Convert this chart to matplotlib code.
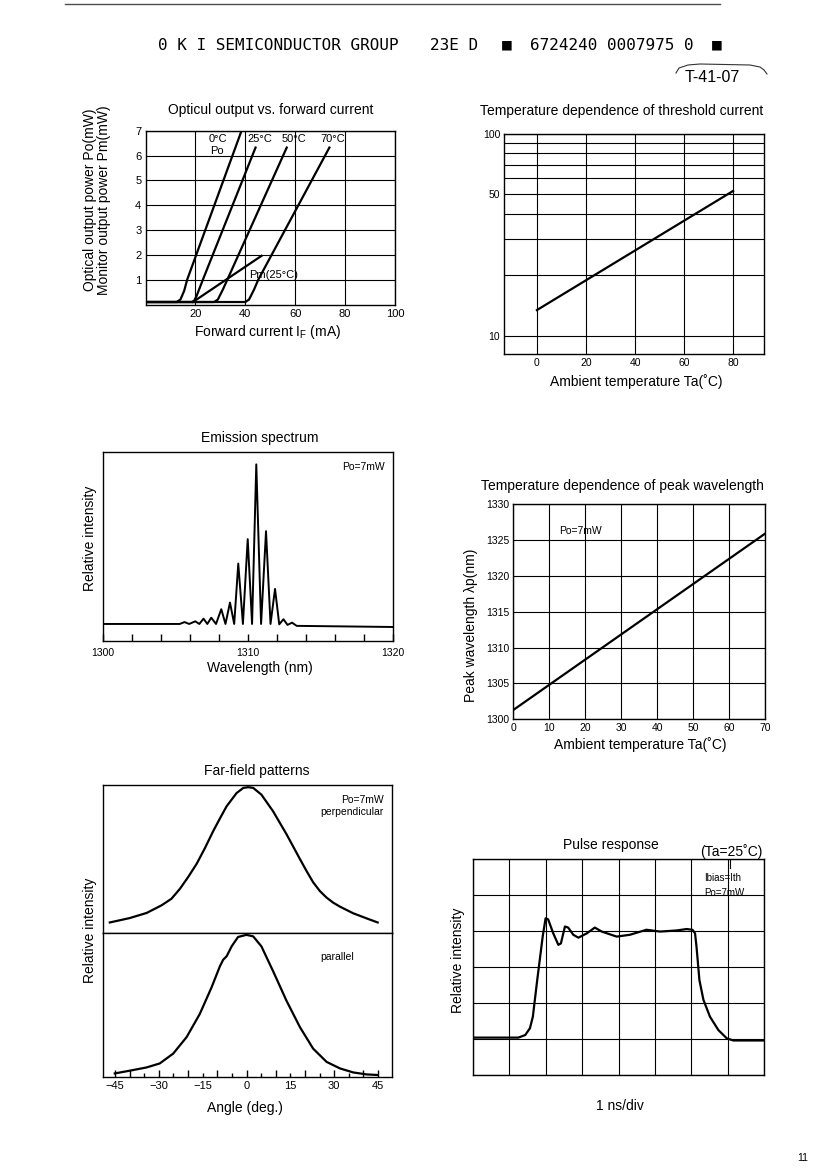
import numpy as np
import matplotlib
matplotlib.use("Agg")
import matplotlib.pyplot as plt
from matplotlib.ticker import NullFormatter

plt.rcParams['font.family'] = ['Liberation Sans', 'DejaVu Sans']
plt.rcParams['mathtext.default'] = 'regular'

W, H = 832, 1169

# --- optical output vs forward current (mA -> mW)
if_0c = [0, 12.5, 14, 15.5, 16.7, 38.5]
po_0c = [0.1, 0.1, 0.2, 0.55, 1.0, 7.0]
if_25c = [0, 18.5, 19.5, 20.5, 23.0, 44.1]
po_25c = [0.1, 0.1, 0.15, 0.35, 1.0, 6.32]
if_50c = [0, 27.5, 29, 31, 32.8, 56.6]
po_50c = [0.1, 0.1, 0.2, 0.6, 1.0, 6.32]
if_70c = [0, 40, 41.5, 43.5, 45.2, 73.7]
po_70c = [0.1, 0.1, 0.2, 0.6, 1.0, 6.32]
if_pm = [19.0, 46.5]
pm_25c = [0.1, 1.96]

# --- threshold current vs temperature
ta_th = [0, 80]
ith = [13.4, 52.0]

# --- emission spectrum
wl = [1300, 1305.3, 1305.63, 1305.95, 1306.37, 1306.65, 1306.94, 1307.2, 1307.47,
      1307.8, 1308.16, 1308.45, 1308.76, 1309.05, 1309.33, 1309.65, 1309.98,
      1310.28, 1310.57, 1310.9, 1311.24, 1311.55, 1311.86, 1312.15, 1312.44,
      1312.72, 1313.03, 1313.35, 1320]
spec = [0.09, 0.09, 0.10, 0.09, 0.104, 0.09, 0.118, 0.09, 0.123,
        0.09, 0.168, 0.09, 0.203, 0.09, 0.409, 0.09, 0.538,
        0.09, 0.933, 0.09, 0.58, 0.09, 0.275, 0.088, 0.115,
        0.085, 0.097, 0.08, 0.074]

# --- peak wavelength vs temperature
ta_wl = [0, 70]
lam_p = [1301.3, 1325.9]

# --- far-field patterns
ang_perp = [-46.8, -40, -34.2, -29.1, -25.7, -22.8, -20, -17.1, -14.2, -11.4, -9,
            -6.8, -3.4, -1.1, 0.6, 2.3, 5.1, 9.1, 13.7, 18.3, 20.6, 22.8, 25.1,
            27.4, 29.7, 32, 36.5, 41.1, 44.9]
ff_perp = [0.07, 0.10, 0.135, 0.187, 0.232, 0.30, 0.38, 0.47, 0.58, 0.695, 0.785,
           0.865, 0.955, 0.99, 0.995, 0.99, 0.944, 0.83, 0.673, 0.503, 0.42, 0.345,
           0.285, 0.24, 0.205, 0.178, 0.133, 0.098, 0.07]
ang_par = [-45.1, -40, -34.2, -29.7, -25.1, -20.5, -16, -12, -9.1, -8, -6.8, -5.1,
           -2.9, 0, 2.3, 5.1, 9.1, 13.7, 18.3, 22.8, 27.4, 32, 36.5, 41.1, 44.9]
ff_par = [0.023, 0.042, 0.065, 0.093, 0.162, 0.278, 0.44, 0.625, 0.775, 0.82, 0.845,
          0.914, 0.98, 0.995, 0.984, 0.914, 0.74, 0.532, 0.347, 0.197, 0.104, 0.058,
          0.03, 0.016, 0.012]

# --- pulse response (divisions)
t_div = [0, 1.25, 1.44, 1.57, 1.65, 1.77, 1.92, 2.0, 2.07, 2.21, 2.35, 2.42, 2.53,
         2.62, 2.76, 2.90, 3.13, 3.35, 3.54, 3.95, 4.31, 4.77, 5.14, 5.59, 5.87,
         6.03, 6.10, 6.14, 6.22, 6.33, 6.51, 6.74, 6.97, 7.15, 8]
pulse = [1.04, 1.04, 1.11, 1.30, 1.62, 2.64, 3.85, 4.36, 4.33, 3.94, 3.62, 3.66, 4.13,
         4.10, 3.90, 3.82, 3.94, 4.10, 3.99, 3.85, 3.90, 4.04, 3.99, 4.02, 4.06,
         4.04, 3.94, 3.57, 2.64, 2.09, 1.62, 1.25, 1.02, 0.96, 0.96]

fig = plt.figure(figsize=(W / 100, H / 100), dpi=100)


def px_axes(l, t, r, b):
    return fig.add_axes([l / W, 1 - b / H, (r - l) / W, (b - t) / H])


def ptext(x, y, s, **kw):
    kw.setdefault('ha', 'center')
    kw.setdefault('va', 'center')
    return fig.text(x / W, 1 - y / H, s, **kw)


def style(ax, ls=7.5):
    for sp in ax.spines.values():
        sp.set_linewidth(1.0)
    ax.tick_params(length=0, labelsize=ls, pad=3)


lc = 'black'
lw = 1.6
glw = 0.8
tfs = 10     # titles / axis labels
yfs = 10     # rotated labels

# ---------------- chart 1
ax = px_axes(145.5, 130.7, 395, 304.5)
style(ax, 8)
for xs, ys in [(if_0c, po_0c), (if_25c, po_25c), (if_50c, po_50c), (if_70c, po_70c),
               (if_pm, pm_25c)]:
    ax.plot(xs, ys, color=lc, lw=lw)
ax.set_xlim(0, 100)
ax.set_ylim(0, 7)
ax.set_xticks([20, 40, 60, 80, 100])
ax.set_yticks([1, 2, 3, 4, 5, 6, 7])
ax.grid(True, color='black', lw=glw)
for x, s in [(29, '0°C'), (46, '25°C'), (59.5, '50°C'), (75, '70°C')]:
    ax.text(x, 6.68, s, fontsize=8, ha='center', va='center')
ax.text(28.5, 6.2, 'Po', fontsize=8, ha='center', va='center')
ax.text(41.5, 1.2, 'Pm(25°C)', fontsize=8, ha='left', va='center')
ptext(271, 110, 'Opticul output vs. forward current', fontsize=tfs)
ptext(268, 332, r'Forward current $\mathregular{I_F}$ (mA)', fontsize=tfs)
ptext(90, 200, 'Optical output power Po(mW)', fontsize=yfs, rotation=90)
ptext(104, 200, 'Monitor output power Pm(mW)', fontsize=yfs, rotation=90)

# ---------------- chart 2
ax = px_axes(504.3, 133.5, 764, 354.3)
style(ax, 7.5)
ax.set_yscale('log')
ax.plot(ta_th, ith, color=lc, lw=lw)
ax.set_xlim(-13.3, 92.6)
ax.set_ylim(8.1, 100)
ax.set_xticks([0, 20, 40, 60, 80])
ax.set_yticks([10, 50, 100])
ax.set_yticklabels(['10', '50', '100'])
ax.set_yticks([20, 30, 40, 60, 70, 80, 90], minor=True)
ax.yaxis.set_minor_formatter(NullFormatter())
ax.tick_params(which='minor', length=0)
ax.grid(True, which='both', color='black', lw=glw)
ptext(622, 111, 'Temperature dependence of threshold current', fontsize=tfs)
ptext(636, 382, 'Ambient temperature Ta(˚C)', fontsize=tfs)

# ---------------- chart 3
ax = px_axes(102.7, 451.7, 393.3, 641)
style(ax)
ax.plot(wl, spec, color=lc, lw=1.4)
ax.set_xlim(1300, 1320)
ax.set_ylim(0, 1)
ax.set_yticks([])
ax.set_xticks(np.arange(1300, 1321, 2))
ax.set_xticklabels(['1300', '', '', '', '', '1310', '', '', '', '', '1320'])
ax.tick_params(axis='x', direction='in', length=5, width=1, labelsize=7.5, pad=5)
ax.text(0.97, 0.92, 'Po=7mW', transform=ax.transAxes, fontsize=7.5, ha='right', va='center')
ptext(260, 438, 'Emission spectrum', fontsize=tfs)
ptext(260, 668, 'Wavelength (nm)', fontsize=tfs)
ptext(90, 538, 'Relative intensity', fontsize=yfs, rotation=90)

# ---------------- chart 4
ax = px_axes(513.3, 504.3, 765, 719.3)
style(ax, 7.5)
ax.plot(ta_wl, lam_p, color=lc, lw=lw)
ax.set_xlim(0, 70)
ax.set_ylim(1300, 1330)
ax.set_xticks(range(0, 71, 10))
ax.set_yticks(range(1300, 1331, 5))
ax.grid(True, color='black', lw=glw)
ax.text(18.6, 1326.3, 'Po=7mW', fontsize=7.5, ha='center', va='center')
ptext(622, 486, 'Temperature dependence of peak wavelength', fontsize=tfs)
ptext(640, 745, 'Ambient temperature Ta(˚C)', fontsize=tfs)
ptext(471, 625, 'Peak wavelength λp(nm)', fontsize=yfs, rotation=90)

# ---------------- chart 5
axa = px_axes(102.5, 785, 392, 932.7)
axb = px_axes(102.5, 932.7, 392, 1076.7)
for a in (axa, axb):
    style(a)
    a.set_xlim(-49.3, 49.8)
    a.set_ylim(0, 1.01)
    a.set_yticks([])
axa.set_xticks([])
axa.plot(ang_perp, ff_perp, color=lc, lw=lw)
axb.plot(ang_par, ff_par, color=lc, lw=lw)
locs = list(range(-45, 50, 5))
axb.set_xticks(locs)
axb.set_xticklabels([('−%d' % -v if v < 0 else str(v)) if v % 15 == 0 else '' for v in locs])
axb.tick_params(axis='x', direction='in', width=1, labelsize=8, pad=3)
for tk, v in zip(axb.xaxis.get_major_ticks(), locs):
    tk.tick1line.set_markersize(5 if (v % 10 == 0 or abs(v) == 45) else 3)
axa.text(0.97, 0.9, 'Po=7mW', transform=axa.transAxes, fontsize=7.5, ha='right', va='center')
axa.text(0.97, 0.82, 'perpendicular', transform=axa.transAxes, fontsize=7.5, ha='right', va='center')
axb.text(0.87, 0.83, 'parallel', transform=axb.transAxes, fontsize=7.5, ha='right', va='center')
ptext(257, 771, 'Far-field patterns', fontsize=tfs)
ptext(245, 1108, 'Angle (deg.)', fontsize=tfs)
ptext(90, 930, 'Relative intensity', fontsize=yfs, rotation=90)

# ---------------- chart 6
ax = px_axes(472.7, 859.3, 764.3, 1075)
style(ax)
ax.plot(t_div, pulse, color=lc, lw=lw)
ax.set_xlim(0, 8)
ax.set_ylim(0, 6)
ax.set_xticks(range(0, 9))
ax.set_yticks(range(0, 7))
ax.set_xticklabels([])
ax.set_yticklabels([])
ax.grid(True, color='black', lw=glw)
ax.text(0.795, 0.915, 'Ibias=Ith', transform=ax.transAxes, fontsize=7, ha='left', va='center')
ax.text(0.795, 0.845, 'Po=7mW', transform=ax.transAxes, fontsize=7, ha='left', va='center')
ptext(611, 845, 'Pulse response', fontsize=tfs)
ptext(731, 852, '(Ta=25˚C)', fontsize=tfs)
ptext(620, 1106, '1 ns/div', fontsize=tfs)
ptext(458, 960, 'Relative intensity', fontsize=yfs, rotation=90)
fig.add_artist(plt.Line2D([730 / W, 730 / W], [1 - 860 / H, 1 - 868 / H], color='black', lw=0.8))

# ---------------- page header
mono = 'DejaVu Sans Mono'
ptext(158, 45, '0 K I SEMICONDUCTOR GROUP', fontsize=11.5, ha='left', family=mono)
ptext(430, 45, '23E D', fontsize=11.5, ha='left', family=mono)
ptext(502, 45, '■', fontsize=11.5, ha='left', family=mono)
ptext(530, 45, '6724240 0007975 0', fontsize=11.5, ha='left', family=mono)
ptext(712, 45, '■', fontsize=11.5, ha='left', family=mono)
ptext(712, 78, 'T-41-07', fontsize=11.5)
ptext(803, 1158, '11', fontsize=7.5)
fig.add_artist(plt.Line2D([65 / W, 720 / W], [1 - 4 / H, 1 - 4 / H], color='0.3', lw=1))
arc_x = [676, 679, 688, 700, 750, 760, 764, 767]
arc_y = [73, 68, 65, 64, 65, 67, 70, 74]
fig.add_artist(plt.Line2D([v / W for v in arc_x], [1 - v / H for v in arc_y],
                          color='0.2', lw=0.8))

fig.savefig('out.png', dpi=100)
